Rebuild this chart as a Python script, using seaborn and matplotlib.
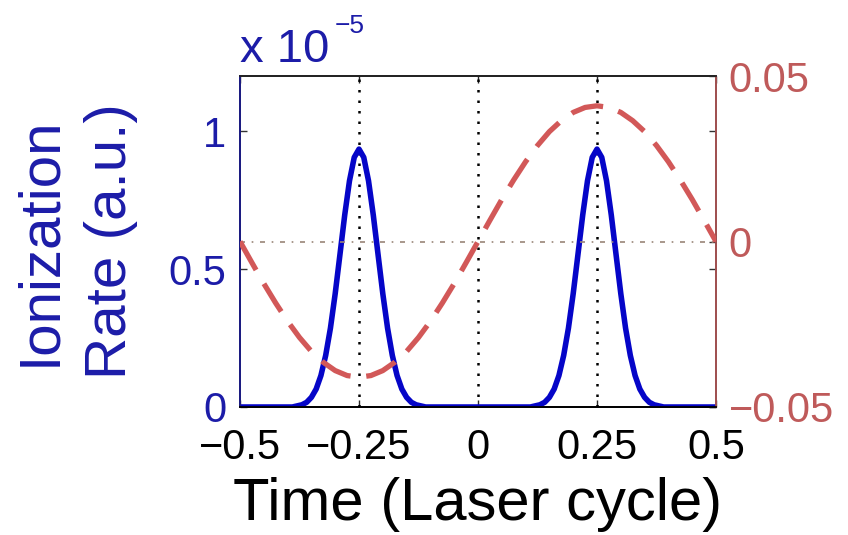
import matplotlib
matplotlib.use("Agg")
import matplotlib.pyplot as plt
import seaborn as sns
import pandas as pd

# ---------------- data ----------------
rate_time = [-0.5,
             -0.39, -0.38, -0.37, -0.36, -0.35, -0.34, -0.33, -0.32, -0.31, -0.30,
             -0.29, -0.28, -0.27, -0.26, -0.25, -0.24, -0.23, -0.22, -0.21, -0.20,
             -0.19, -0.18, -0.17, -0.16, -0.15, -0.14, -0.13, -0.12, -0.11,
             0.11, 0.12, 0.13, 0.14, 0.15, 0.16, 0.17, 0.18, 0.19, 0.20,
             0.21, 0.22, 0.23, 0.24, 0.25, 0.26, 0.27, 0.28, 0.29, 0.30,
             0.31, 0.32, 0.33, 0.34, 0.35, 0.36, 0.37, 0.38, 0.39,
             0.5]
# ionization rate in units of 1e-5 a.u.
rate = [0.0,
        0.0, 0.004, 0.008, 0.017, 0.035, 0.065, 0.114, 0.187, 0.286, 0.411,
        0.553, 0.696, 0.820, 0.905, 0.935, 0.905, 0.820, 0.696, 0.553, 0.411,
        0.286, 0.187, 0.114, 0.065, 0.035, 0.017, 0.008, 0.004, 0.0,
        0.0, 0.004, 0.008, 0.017, 0.035, 0.065, 0.114, 0.187, 0.286, 0.411,
        0.553, 0.696, 0.820, 0.905, 0.935, 0.905, 0.820, 0.696, 0.553, 0.411,
        0.286, 0.187, 0.114, 0.065, 0.035, 0.017, 0.008, 0.004, 0.0,
        0.0]

field_time = [-0.5, -0.475, -0.45, -0.425, -0.4, -0.375, -0.35, -0.325, -0.3, -0.275,
              -0.25, -0.225, -0.2, -0.175, -0.15, -0.125, -0.1, -0.075, -0.05, -0.025,
              0.0, 0.025, 0.05, 0.075, 0.1, 0.125, 0.15, 0.175, 0.2, 0.225,
              0.25, 0.275, 0.3, 0.325, 0.35, 0.375, 0.4, 0.425, 0.45, 0.475, 0.5]
field = [0.0, -0.0064, -0.0127, -0.0186, -0.0241, -0.0290, -0.0332, -0.0365, -0.0390, -0.0405,
         -0.0410, -0.0405, -0.0390, -0.0365, -0.0332, -0.0290, -0.0241, -0.0186, -0.0127, -0.0064,
         0.0, 0.0064, 0.0127, 0.0186, 0.0241, 0.0290, 0.0332, 0.0365, 0.0390, 0.0405,
         0.0410, 0.0405, 0.0390, 0.0365, 0.0332, 0.0290, 0.0241, 0.0186, 0.0127, 0.0064, 0.0]

x_ticks = [-0.5, -0.25, 0, 0.25, 0.5]
x_ticklabels = ["\u22120.5", "\u22120.25", "0", "0.25", "0.5"]
left_ticks = [0, 0.5, 1]
left_ticklabels = ["0", "0.5", "1"]
right_ticks = [-0.05, 0, 0.05]
right_ticklabels = ["\u22120.05", "0", "0.05"]
guide_times = [-0.25, 0, 0.25]

# ---------------- styling ----------------
sns.set_style("white")
plt.rcParams["font.family"] = ["Liberation Sans", "DejaVu Sans"]

BLUE_LINE = "#0505c8"
BLUE_TXT = "#1c1ca8"
RED_LINE = "#d25858"
RED_TXT = "#bf5a5a"

fig = plt.figure(figsize=(8.48, 5.35), dpi=100)
ax = fig.add_axes([240 / 848, 128 / 535, 476 / 848, 331 / 535])
ax2 = ax.twinx()

df_rate = pd.DataFrame({"t": rate_time, "rate": rate})
df_field = pd.DataFrame({"t": field_time, "field": field})

for gt in guide_times:
    ax.axvline(gt, color="black", lw=1.8, ls=(0, (1.0, 3.2)), zorder=1)

sns.lineplot(data=df_rate, x="t", y="rate", ax=ax, color=BLUE_LINE, lw=4.0,
             estimator=None, sort=True, zorder=3)

ax2.axhline(0, color="#9a8578", lw=1.2, ls=(0, (3, 4, 1, 4)), zorder=1)
sns.lineplot(data=df_field, x="t", y="field", ax=ax2, color=RED_LINE, lw=3.8,
             estimator=None, sort=True, zorder=3)
ax2.lines[-1].set_dashes((6.2, 3.0))

ax.set_xlim(-0.5, 0.5)
ax.set_ylim(0, 1.2)
ax2.set_ylim(-0.05, 0.05)

ax.set_xticks(x_ticks)
ax.set_xticklabels(x_ticklabels)
ax.set_yticks(left_ticks)
ax.set_yticklabels(left_ticklabels)
ax2.set_yticks(right_ticks)
ax2.set_yticklabels(right_ticklabels)

TICK_FS = 30
ax.tick_params(axis="x", direction="in", length=5, width=1, top=True, bottom=True,
               labelsize=TICK_FS, labelcolor="black", pad=15)
ax.tick_params(axis="y", direction="in", length=5, width=1, left=True, right=True,
               labelsize=TICK_FS, labelcolor=BLUE_TXT, color="#333333", pad=10)
ax2.tick_params(axis="y", direction="in", length=5, width=1, right=True,
                labelsize=TICK_FS, labelcolor=RED_TXT, color="#333333", pad=9)

for a in (ax, ax2):
    for s in a.spines.values():
        s.set_linewidth(1.3)
        s.set_visible(True)
    a.spines["left"].set_color("#1a1a80")
    a.spines["right"].set_color("#a05050")
    a.spines["bottom"].set_color("black")
    a.spines["top"].set_color("#222222")
    a.grid(False)

ax.set_xlabel("Time (Laser cycle)", fontsize=43, color="black")
ax.xaxis.set_label_coords(0.5, -0.296)
ax.xaxis.label.set_va("center")

ax.set_ylabel("Ionization\nRate (a.u.)", fontsize=42, color=BLUE_TXT,
              va="center", ha="center", linespacing=1.4)
ax.yaxis.set_label_coords(-0.345, 0.5)
ax2.set_ylabel("")

fig.text(240 / 848, 1 - 62 / 535, "x 10", fontsize=34, color=BLUE_TXT,
         ha="left", va="baseline")
fig.text(335 / 848, 1 - 33 / 535, "\u22125", fontsize=19, color=BLUE_TXT,
         ha="left", va="baseline")

fig.savefig("out.png", dpi=100, facecolor="white")
